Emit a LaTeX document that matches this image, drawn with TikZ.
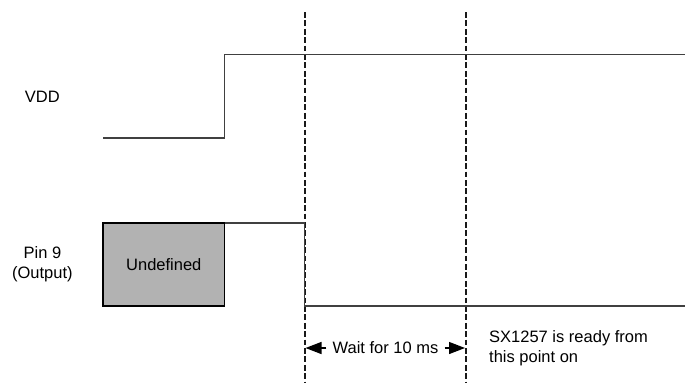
\documentclass[tikz,border=0pt]{standalone}
\usepackage{fontspec}
\setmainfont{Liberation Sans}
\usetikzlibrary{positioning, arrows.meta}

\begin{document}
\begin{tikzpicture}[x=1pt, y=-1pt, font=\fontsize{16.5}{20.5}\selectfont,
  signal/.style={line width=1.3pt, color=black!75},
  marker/.style={line width=1.8pt, color=black!90, dash pattern=on 5.7pt off 2.7pt},
  lbl/.style={align=center, inner sep=1pt},
  arr/.style={-{Triangle[length=16pt, width=12pt]}, line width=1.3pt, shorten <=5pt}]
  \useasboundingbox (0,0) rectangle (685,383);
  % time markers
  \coordinate (m1top) at (304.8,12);
  \coordinate (m1bot) at (304.8,383);
  \coordinate (m2top) at (466,12);
  \coordinate (m2bot) at (466,383);
  \draw[marker] (m1top) -- (m1bot);
  \draw[marker] (m2top) -- (m2bot);
  % VDD
  \node[lbl] (vdd) at (42.4,96.7) {VDD};
  \draw[signal] (103,138) -- (224.5,138) -- (224.5,54.3) -- (685,54.3);
  % Pin 9
  \node[lbl] (pin) at (42.4,264) {Pin 9\\(Output)};
  \node[draw, line width=1.3pt, fill=black!30, minimum width=121.5pt, minimum height=83pt,
    inner sep=0pt, outer sep=0pt] (undef) at (163.8,264.5) {Undefined};
  \draw[signal] (undef.north east) -- (304.8,223) -- (304.8,306) -- (685,306);
  % wait period
  \node[lbl] (wait) at (385.5,348) {Wait for 10 ms};
  \coordinate (w1) at (305.5,348);
  \coordinate (w2) at (465,348);
  \draw[arr] (wait.west) -- (w1);
  \draw[arr] (wait.east) -- (w2);
  \node[lbl, align=left, anchor=west] (ready) at (488,348) {SX1257 is ready from\\this point on};
\end{tikzpicture}
\end{document}
